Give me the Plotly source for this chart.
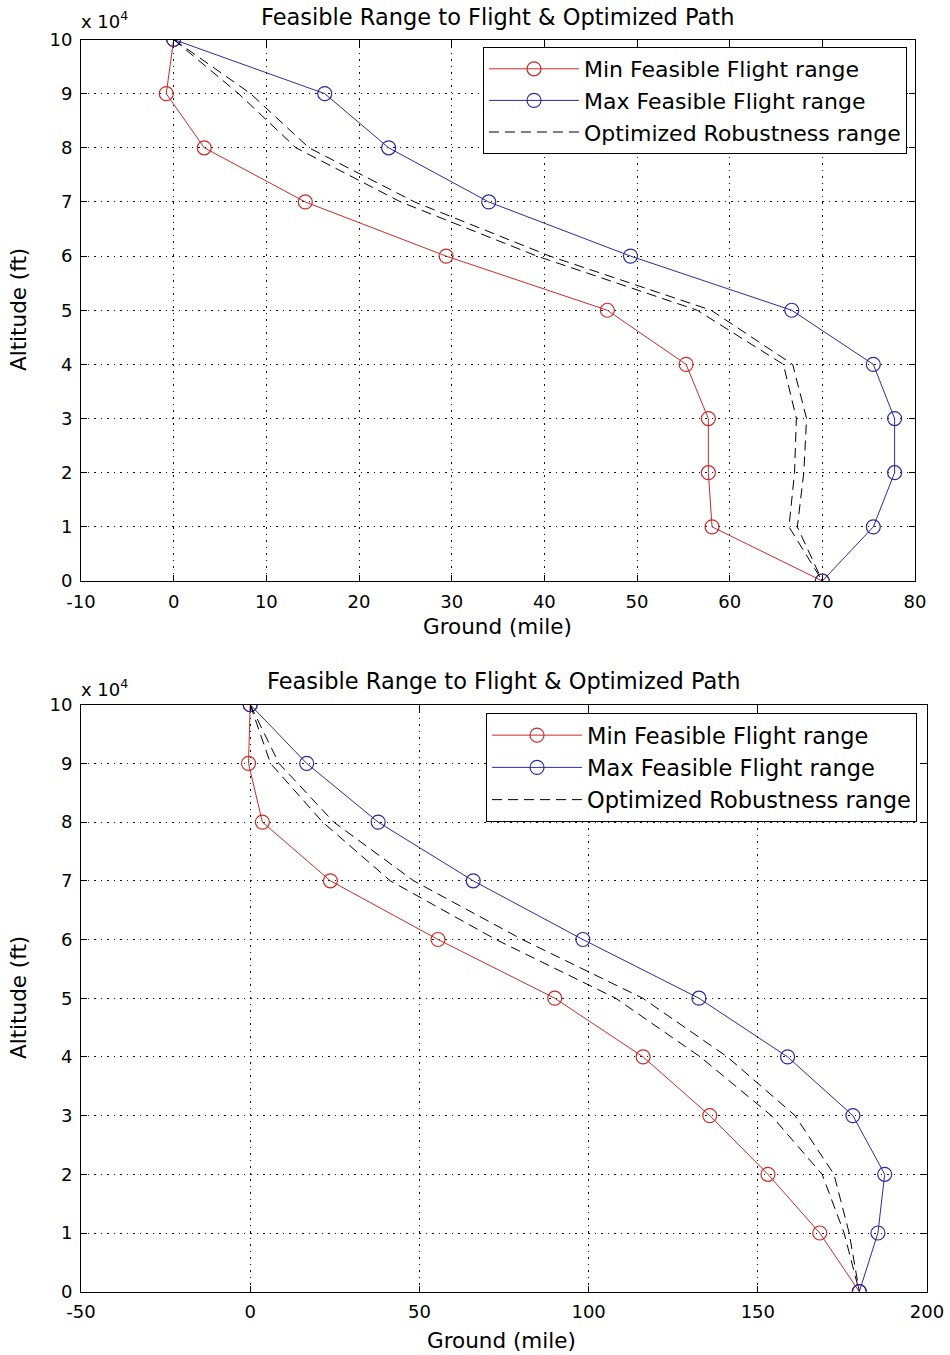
import plotly.graph_objects as go

# ---------------- data ----------------
altitude = [100000, 90000, 80000, 70000, 60000, 50000, 40000, 30000, 20000, 10000, 0]

top_min = [0, -0.8, 3.3, 14.2, 29.4, 46.8, 55.3, 57.7, 57.7, 58.1, 70.0]
top_max = [0, 16.3, 23.2, 34.0, 49.3, 66.7, 75.5, 77.8, 77.8, 75.5, 70.0]
top_opt_a = [0, 7.0, 13.2, 24.5, 39.2, 56.5, 65.8, 67.2, 67.0, 66.4, 70.0]
top_opt_b = [0, 8.3, 14.6, 26.0, 40.6, 58.0, 66.8, 68.3, 68.0, 67.3, 70.0]

bot_min = [0, -0.5, 3.6, 23.7, 55.5, 90.0, 116.1, 135.8, 153.0, 168.3, 180.0]
bot_max = [0, 16.7, 37.8, 65.9, 98.3, 132.6, 158.8, 178.1, 187.5, 185.5, 180.0]
bot_opt_a = [0, 6.0, 21.4, 41.4, 72.6, 108.0, 133.0, 154.0, 169.0, 175.5, 180.0]
bot_opt_b = [0, 8.5, 24.7, 48.3, 80.4, 116.0, 141.0, 161.0, 172.5, 177.0, 180.0]

y_tickvals = [0, 10000, 20000, 30000, 40000, 50000, 60000, 70000, 80000, 90000, 100000]
y_ticktext = ["0", "1", "2", "3", "4", "5", "6", "7", "8", "9", "10"]
top_xticks = [-10, 0, 10, 20, 30, 40, 50, 60, 70, 80]
top_xticktext = ["-10", "0", "10", "20", "30", "40", "50", "60", "70", "80"]
bot_xticks = [-50, 0, 50, 100, 150, 200]
bot_xticktext = ["-50", "0", "50", "100", "150", "200"]

names = ["Min Feasible Flight range", "Max Feasible Flight range", "Optimized Robustness range"]
title_text = "Feasible Range to Flight & Optimized Path"

RED = "#cc2a2a"
BLUE = "#2a2aa8"
W, H = 950, 1355


def px(x):
    return x / W


def py(y):
    return 1 - y / H


fig = go.Figure()


def add_set(xmin, xmax, xa, xb, xref, yref, legend):
    fig.add_trace(go.Scatter(x=xmin, y=altitude, mode="lines+markers", name=names[0],
                             line=dict(color=RED, width=1),
                             marker=dict(symbol="circle-open", size=14, color=RED, line=dict(width=1.2)),
                             xaxis=xref, yaxis=yref, legend=legend))
    fig.add_trace(go.Scatter(x=xmax, y=altitude, mode="lines+markers", name=names[1],
                             line=dict(color=BLUE, width=1),
                             marker=dict(symbol="circle-open", size=14, color=BLUE, line=dict(width=1.2)),
                             xaxis=xref, yaxis=yref, legend=legend))
    fig.add_trace(go.Scatter(x=xa, y=altitude, mode="lines", name=names[2],
                             line=dict(color="black", width=1, dash="10px,6px"),
                             xaxis=xref, yaxis=yref, legend=legend))
    fig.add_trace(go.Scatter(x=xb, y=altitude, mode="lines", name=names[2], showlegend=False,
                             line=dict(color="black", width=1, dash="10px,6px"),
                             xaxis=xref, yaxis=yref, legend=legend))


add_set(top_min, top_max, top_opt_a, top_opt_b, "x", "y", "legend")
add_set(bot_min, bot_max, bot_opt_a, bot_opt_b, "x2", "y2", "legend2")

FONT = "DejaVu Sans, Liberation Sans, Arial"
tick_font = dict(family=FONT, size=18, color="black")
title_font = dict(family=FONT, size=22.5, color="black")
label_font = dict(family=FONT, size=21.5, color="black")

common_axis = dict(showline=True, linecolor="black", linewidth=1, mirror="ticks",
                   ticks="inside", ticklen=6, tickcolor="black",
                   showgrid=True, gridcolor="#111111", gridwidth=1, griddash="1.5px,5px",
                   zeroline=False, tickfont=tick_font, automargin=False, ticklabelstandoff=4)

fig.update_layout(
    width=W, height=H,
    margin=dict(l=0, r=0, t=0, b=0),
    paper_bgcolor="white", plot_bgcolor="white",
    showlegend=True,
    xaxis=dict(domain=[px(81), px(915)], range=[-10, 80], tickvals=top_xticks, ticktext=top_xticktext,
               anchor="y", **common_axis),
    yaxis=dict(domain=[py(581), py(39.5)], range=[0, 100000], tickvals=y_tickvals, ticktext=y_ticktext,
               anchor="x", **common_axis),
    xaxis2=dict(domain=[px(81), px(927)], range=[-50, 200], tickvals=bot_xticks, ticktext=bot_xticktext,
                anchor="y2", **common_axis),
    yaxis2=dict(domain=[py(1291.7), py(704.7)], range=[0, 100000], tickvals=y_tickvals, ticktext=y_ticktext,
                anchor="x2", **common_axis),
    legend=dict(x=px(907), y=py(47), xanchor="right", yanchor="top", bgcolor="white",
                bordercolor="black", borderwidth=1, itemwidth=90,
                font=dict(family=FONT, size=22, color="black")),
    legend2=dict(x=px(917), y=py(713), xanchor="right", yanchor="top", bgcolor="white",
                 bordercolor="black", borderwidth=1, itemwidth=90,
                 font=dict(family=FONT, size=22.5, color="black")),
)

annos = [
    dict(text=title_text, x=px(497), y=py(17), font=title_font),
    dict(text=title_text, x=px(503), y=py(681), font=title_font),
    dict(text="Ground (mile)", x=px(497), y=py(627), font=label_font),
    dict(text="Ground (mile)", x=px(502), y=py(1340), font=label_font),
    dict(text="Altitude (ft)", x=px(18), y=py(310), font=label_font, textangle=-90),
    dict(text="Altitude (ft)", x=px(18), y=py(998), font=label_font, textangle=-90),
    dict(text="x 10<sup>4</sup>", x=px(104), y=py(20), font=tick_font),
    dict(text="x 10<sup>4</sup>", x=px(104), y=py(688), font=tick_font),
]
for a in annos:
    fig.add_annotation(xref="paper", yref="paper", showarrow=False, xanchor="center", yanchor="middle", **a)

fig.write_html("out.html")
